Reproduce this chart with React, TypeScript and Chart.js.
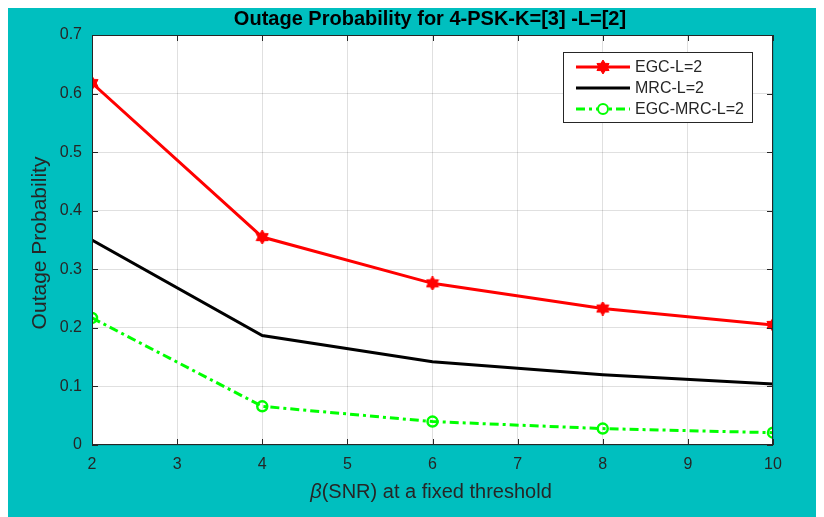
import React, { useEffect, useRef } from "react";
import { Chart, registerables } from "chart.js";
Chart.register(...registerables);

const xValues = [2, 4, 6, 8, 10];
const egcValues = [0.618, 0.355, 0.276, 0.233, 0.205];
const mrcValues = [0.35, 0.187, 0.142, 0.12, 0.104];
const egcMrcValues = [0.217, 0.066, 0.04, 0.028, 0.021];
const seriesLabels = ["EGC-L=2", "MRC-L=2", "EGC-MRC-L=2"];
const xTickValues = [2, 3, 4, 5, 6, 7, 8, 9, 10];
const yTickValues = [0, 0.1, 0.2, 0.3, 0.4, 0.5, 0.6, 0.7];
const titleText = "Outage Probability for 4-PSK-K=[3] -L=[2]";
const yTitle = "Outage Probability";
const xTitleGreek = "β";
const xTitleRest = "(SNR) at a fixed threshold";

const BG = "#00BFBF";
const AXIS = "#262626";
const FONT = "'Liberation Sans', Arial, sans-serif";

function makeStar(color: string, size: number) {
  const c = document.createElement("canvas");
  c.width = size;
  c.height = size;
  const g = c.getContext("2d")!;
  const cx = size / 2, cy = size / 2, R = size / 2, r = R * 0.6;
  g.beginPath();
  for (let i = 0; i < 12; i++) {
    const a = (Math.PI / 6) * i - Math.PI / 2;
    const rad = i % 2 === 0 ? R : r;
    const px = cx + rad * Math.cos(a), py = cy + rad * Math.sin(a);
    if (i === 0) g.moveTo(px, py); else g.lineTo(px, py);
  }
  g.closePath();
  g.fillStyle = color;
  g.fill();
  g.strokeStyle = color;
  g.lineWidth = 1;
  g.stroke();
  return c;
}

export default function App() {
  const ref = useRef<HTMLCanvasElement>(null);
  useEffect(() => {
    const star = makeStar("#ff0000", 14);
    const decor = {
      id: "decor",
      beforeDraw(chart: any) {
        const { ctx, chartArea: a } = chart;
        ctx.save();
        ctx.fillStyle = BG;
        ctx.fillRect(0, 0, chart.width, chart.height);
        ctx.fillStyle = "#ffffff";
        ctx.fillRect(a.left, a.top, a.right - a.left, a.bottom - a.top);
        ctx.restore();
      },
      afterDraw(chart: any) {
        const { ctx, chartArea: a } = chart;
        const xs = chart.scales.x, ys = chart.scales.y;
        ctx.save();
        ctx.strokeStyle = AXIS;
        ctx.lineWidth = 1;
        ctx.strokeRect(a.left + 0.5, a.top + 0.5, a.right - a.left - 1, a.bottom - a.top - 1);
        ctx.beginPath();
        xTickValues.forEach((v) => {
          const px = Math.round(xs.getPixelForValue(v)) + 0.5;
          ctx.moveTo(px, a.bottom); ctx.lineTo(px, a.bottom - 6);
          ctx.moveTo(px, a.top); ctx.lineTo(px, a.top + 6);
        });
        yTickValues.forEach((v) => {
          const py = Math.round(ys.getPixelForValue(v)) + 0.5;
          ctx.moveTo(a.left, py); ctx.lineTo(a.left + 6, py);
          ctx.moveTo(a.right, py); ctx.lineTo(a.right - 6, py);
        });
        ctx.stroke();

        // title
        ctx.fillStyle = "#000";
        ctx.font = `bold 20px ${FONT}`;
        ctx.textAlign = "center";
        ctx.textBaseline = "middle";
        ctx.fillText(titleText, 422, 11);

        // y title
        ctx.fillStyle = AXIS;
        ctx.font = `21px ${FONT}`;
        ctx.save();
        ctx.translate(32, (a.top + a.bottom) / 2 + 3);
        ctx.rotate(-Math.PI / 2);
        ctx.fillText(yTitle, 0, 0);
        ctx.restore();

        // x title
        ctx.font = `italic 20px ${FONT}`;
        const wG = ctx.measureText(xTitleGreek).width;
        ctx.font = `20px ${FONT}`;
        const wR = ctx.measureText(xTitleRest).width;
        const cx = 423;
        let sx = cx - (wG + wR) / 2;
        ctx.textAlign = "left";
        ctx.font = `italic 20px ${FONT}`;
        ctx.fillText(xTitleGreek, sx, 484);
        ctx.font = `20px ${FONT}`;
        ctx.fillText(xTitleRest, sx + wG, 484);

        // legend
        const lx = 555, ly = 44, lw = 189, lh = 70;
        ctx.fillStyle = "#fff";
        ctx.fillRect(lx, ly, lw, lh);
        ctx.strokeStyle = AXIS;
        ctx.lineWidth = 1;
        ctx.strokeRect(lx + 0.5, ly + 0.5, lw, lh);
        const rows = [59, 80, 101];
        chart.data.datasets.forEach((ds: any, i: number) => {
          const y = rows[i];
          ctx.save();
          ctx.strokeStyle = ds.borderColor;
          ctx.lineWidth = 3;
          ctx.setLineDash(ds.borderDash || []);
          ctx.beginPath();
          ctx.moveTo(568, y);
          ctx.lineTo(622, y);
          ctx.stroke();
          ctx.setLineDash([]);
          if (i === 0) {
            ctx.drawImage(star, 595 - 7, y - 7);
          } else if (i === 2) {
            ctx.lineWidth = 2;
            ctx.fillStyle = "#fff";
            ctx.beginPath();
            ctx.arc(595, y, 5, 0, Math.PI * 2);
            ctx.fill();
            ctx.stroke();
          }
          ctx.restore();
          ctx.fillStyle = AXIS;
          ctx.font = `16px ${FONT}`;
          ctx.textAlign = "left";
          ctx.textBaseline = "middle";
          ctx.fillText(ds.label, 627, y + 1);
        });
        ctx.restore();
      },
    };

    const chart = new Chart(ref.current!, {
      type: "line",
      data: {
        datasets: [
          {
            label: seriesLabels[0],
            data: xValues.map((x, i) => ({ x, y: egcValues[i] })),
            borderColor: "#ff0000",
            backgroundColor: "#ff0000",
            borderWidth: 3,
            pointStyle: star as any,
            pointRadius: 7,
          },
          {
            label: seriesLabels[1],
            data: xValues.map((x, i) => ({ x, y: mrcValues[i] })),
            borderColor: "#000000",
            backgroundColor: "#000000",
            borderWidth: 3,
            pointRadius: 0,
          },
          {
            label: seriesLabels[2],
            data: xValues.map((x, i) => ({ x, y: egcMrcValues[i] })),
            borderColor: "#00ff00",
            backgroundColor: "rgba(0,0,0,0)",
            borderWidth: 3,
            borderDash: [9, 4, 3, 4],
            pointStyle: "circle",
            pointRadius: 5,
            pointBorderWidth: 2.5,
          },
        ],
      },
      options: {
        animation: false,
        responsive: false,
        maintainAspectRatio: false,
        events: [],
        layout: { padding: { left: 0, top: 27, right: 51, bottom: 0 } },
        plugins: { legend: { display: false }, tooltip: { enabled: false }, title: { display: false } },
        scales: {
          x: {
            type: "linear",
            min: 2,
            max: 10,
            afterFit: (s: any) => { s.height = 72; },
            afterBuildTicks: (s: any) => { s.ticks = xTickValues.map((v) => ({ value: v })); },
            ticks: { color: AXIS, font: { family: FONT, size: 16 }, padding: 10, callback: (v: any) => String(v) },
            grid: { color: "rgba(0,0,0,0.12)", drawTicks: false, lineWidth: 1 },
            border: { display: false },
          },
          y: {
            type: "linear",
            min: 0,
            max: 0.7,
            afterFit: (s: any) => { s.width = 84; },
            afterBuildTicks: (s: any) => { s.ticks = yTickValues.map((v) => ({ value: v })); },
            ticks: {
              color: AXIS,
              font: { family: FONT, size: 16 },
              padding: 10,
              callback: (v: any) => (v === 0 ? "0" : Number(v).toFixed(1)),
            },
            grid: { color: "rgba(0,0,0,0.12)", drawTicks: false, lineWidth: 1 },
            border: { display: false },
          },
        },
      },
      plugins: [decor],
    });
    return () => chart.destroy();
  }, []);
  return <canvas ref={ref} width={816} height={509} style={{ display: "block", width: 816, height: 509 }} />;
}
